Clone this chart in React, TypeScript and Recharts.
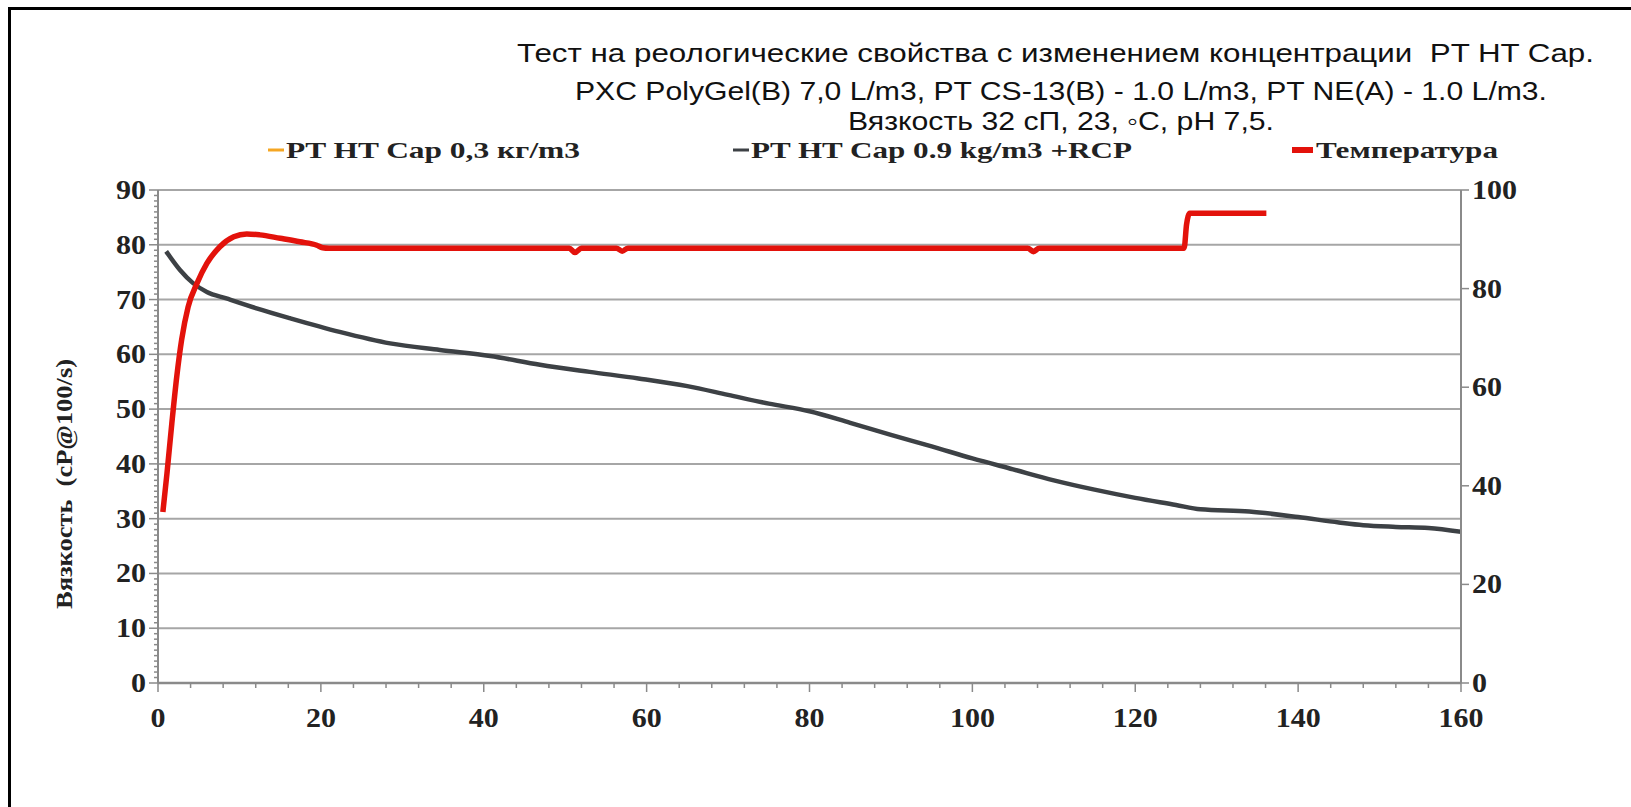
import React from 'react';
import { LineChart, Line, XAxis, YAxis, ReferenceLine } from 'recharts';

const titleLines = [
  'Тест на реологические свойства с изменением концентрации  PT HT Cap.',
  'PXC PolyGel(B) 7,0 L/m3, PT CS-13(B) - 1.0 L/m3, PT NE(A) - 1.0 L/m3.',
  'Вязкость 32 сП, 23, ◦C, pH 7,5.',
];
const seriesNames = ['PT HT Cap 0,3 кг/m3', 'PT HT Cap 0.9 kg/m3 +RCP', 'Температура'];
const seriesColors = ['#f5a623', '#3d4145', '#e3120b'];
const yAxisLabel = 'Вязкость  (cP@100/s)';

// viscosity, left axis (cP)
const viscTime = [1.0, 2.7, 4.3, 6.0, 8.4, 12.1, 16.2, 22.3, 28.5, 34.6, 40.8, 46.9, 53.0, 59.0, 65, 70, 75, 80, 85, 90, 95, 100, 105, 110, 115, 120, 125, 128, 134, 140, 145, 148, 152, 156, 160];
const viscValue = [78.8, 75.4, 73.0, 71.4, 70.2, 68.4, 66.6, 64.1, 62.0, 60.8, 59.7, 58.1, 56.8, 55.6, 54.2, 52.6, 51.0, 49.6, 47.5, 45.3, 43.2, 41.0, 39.0, 37.0, 35.3, 33.8, 32.5, 31.7, 31.3, 30.3, 29.3, 28.8, 28.5, 28.3, 27.6];

// temperature, right axis
const tempTime = [0.6, 1.1, 1.7, 2.3, 2.9, 3.7, 4.8, 6.0, 7.6, 9.3, 10.9, 12.5, 15.0, 17.4, 19.5, 20.2, 21.0, 25, 35, 45, 50.5, 51.2, 52.0, 56.3, 57.0, 57.7, 70, 90, 106.8, 107.5, 108.2, 120, 126.0, 126.3, 126.7, 130, 136.1];
const tempValue = [34.7, 42.5, 52.7, 62.1, 69.6, 76.3, 81.1, 85.1, 88.5, 90.5, 91.1, 90.9, 90.2, 89.5, 88.8, 88.3, 88.2, 88.2, 88.2, 88.2, 88.2, 87.3, 88.2, 88.2, 87.6, 88.2, 88.2, 88.2, 88.2, 87.5, 88.2, 88.2, 88.2, 93.0, 95.3, 95.3, 95.3];

const xTicks = Array.from({ length: 41 }, (_, i) => i * 4);
const leftTicks = Array.from({ length: 91 }, (_, i) => i);
const gridValues = [10, 20, 30, 40, 50, 60, 70, 80, 90];
const rightTicks = [0, 20, 40, 60, 80, 100];

const viscData = viscTime.map((t, i) => ({ time: t, visc: viscValue[i] }));
const tempData = tempTime.map((t, i) => ({ time: t, temp: tempValue[i] }));

const serif = "'Liberation Serif', 'Times New Roman', serif";
const narrow = "'Liberation Sans Narrow', 'Arial Narrow', 'Liberation Sans', sans-serif";
const axisGray = '#8a8a8a';

// tick label in the stretched Times look of the original
const TickText = ({ x, y, anchor, value }: any) => (
  <text
    x={x}
    y={y}
    textAnchor={anchor}
    textLength={String(value).length * 15}
    lengthAdjust="spacingAndGlyphs"
    fontFamily={serif}
    fontWeight="bold"
    fontSize={27}
    fill="#222"
  >
    {value}
  </text>
);

const LeftTick = (props: any) => {
  const { x, y, payload } = props;
  const major = payload.value % 10 === 0;
  return (
    <g>
      <line x1={x - (major ? 9 : 4)} x2={x} y1={y} y2={y} stroke={axisGray} strokeWidth={1.5} />
      {major && <TickText x={x - 12} y={y + 9} anchor="end" value={payload.value} />}
    </g>
  );
};

const RightTick = (props: any) => {
  const { x, y, payload } = props;
  return (
    <g>
      <line x1={x} x2={x + 8} y1={y} y2={y} stroke={axisGray} strokeWidth={1.5} />
      <TickText x={x + 11} y={y + 9} anchor="start" value={payload.value} />
    </g>
  );
};

const BottomTick = (props: any) => {
  const { x, y, payload } = props;
  const major = payload.value % 20 === 0;
  return (
    <g>
      <line x1={x} x2={x} y1={y} y2={y + (major ? 9 : 5)} stroke={axisGray} strokeWidth={1.5} />
      {major && <TickText x={x} y={y + 44} anchor="middle" value={payload.value} />}
    </g>
  );
};

const legendItems = [
  { dash: [268, 284], text: 286, len: 294, w: 3 },
  { dash: [733, 749], text: 751, len: 381, w: 3 },
  { dash: [1292, 1313], text: 1316, len: 182, w: 6 },
];

export default function App() {
  return (
    <div style={{ position: 'absolute', left: 0, top: 0, width: 1631, height: 807, background: '#fff', overflow: 'hidden' }}>
      <div style={{ position: 'absolute', left: 8, top: 7, width: 1640, height: 820, borderLeft: '3px solid #000', borderTop: '3px solid #000' }} />
      <LineChart width={1631} height={807} margin={{ top: 190, right: 0, bottom: 0, left: 0 }}>
        {gridValues.map((v) => (
          <ReferenceLine key={v} y={v} yAxisId="left" stroke="#a6a6a6" strokeWidth={2} />
        ))}
        <XAxis
          type="number"
          dataKey="time"
          domain={[0, 160]}
          ticks={xTicks}
          interval={0}
          height={124}
          tickSize={0}
          tickMargin={0}
          tick={<BottomTick />}
          axisLine={{ stroke: axisGray, strokeWidth: 2.5 }}
          allowDataOverflow
        />
        <YAxis
          yAxisId="left"
          orientation="left"
          domain={[0, 90]}
          ticks={leftTicks}
          interval={0}
          width={158}
          tickSize={0}
          tickMargin={0}
          tick={<LeftTick />}
          axisLine={{ stroke: axisGray, strokeWidth: 2 }}
          allowDataOverflow
        />
        <YAxis
          yAxisId="right"
          orientation="right"
          domain={[0, 100]}
          ticks={rightTicks}
          interval={0}
          width={170}
          tickSize={0}
          tickMargin={0}
          tick={<RightTick />}
          axisLine={{ stroke: axisGray, strokeWidth: 2 }}
          allowDataOverflow
        />
        <Line
          data={viscData}
          dataKey="visc"
          yAxisId="left"
          type="monotone"
          stroke={seriesColors[1]}
          strokeWidth={4.5}
          dot={false}
          isAnimationActive={false}
        />
        <Line
          data={tempData}
          dataKey="temp"
          yAxisId="right"
          type="monotone"
          stroke={seriesColors[2]}
          strokeWidth={5.5}
          dot={false}
          isAnimationActive={false}
        />
      </LineChart>
      <svg width={1631} height={807} style={{ position: 'absolute', left: 0, top: 0, pointerEvents: 'none' }}>
        <text x={517} y={62} textLength={1077} lengthAdjust="spacingAndGlyphs" fontFamily={narrow} fontSize={26} fill="#111" style={{ whiteSpace: 'pre' }}>
          {titleLines[0]}
        </text>
        <text x={575} y={100} textLength={972} lengthAdjust="spacingAndGlyphs" fontFamily={narrow} fontSize={26} fill="#111">
          {titleLines[1]}
        </text>
        <text x={848} y={130} textLength={426} lengthAdjust="spacingAndGlyphs" fontFamily={narrow} fontSize={26} fill="#111">
          {titleLines[2]}
        </text>
        {legendItems.map((it, i) => (
          <g key={i}>
            <line x1={it.dash[0]} x2={it.dash[1]} y1={150} y2={150} stroke={seriesColors[i]} strokeWidth={it.w} />
            <text x={it.text} y={158} textLength={it.len} lengthAdjust="spacingAndGlyphs" fontFamily={serif} fontWeight="bold" fontSize={24} fill="#222">
              {seriesNames[i]}
            </text>
          </g>
        ))}
        <text
          transform="translate(72,484) rotate(-90)"
          x={0}
          y={0}
          textAnchor="middle"
          textLength={250}
          lengthAdjust="spacingAndGlyphs"
          fontFamily={serif}
          fontWeight="bold"
          fontSize={24}
          fill="#222"
          style={{ whiteSpace: 'pre' }}
        >
          {yAxisLabel}
        </text>
      </svg>
    </div>
  );
}
